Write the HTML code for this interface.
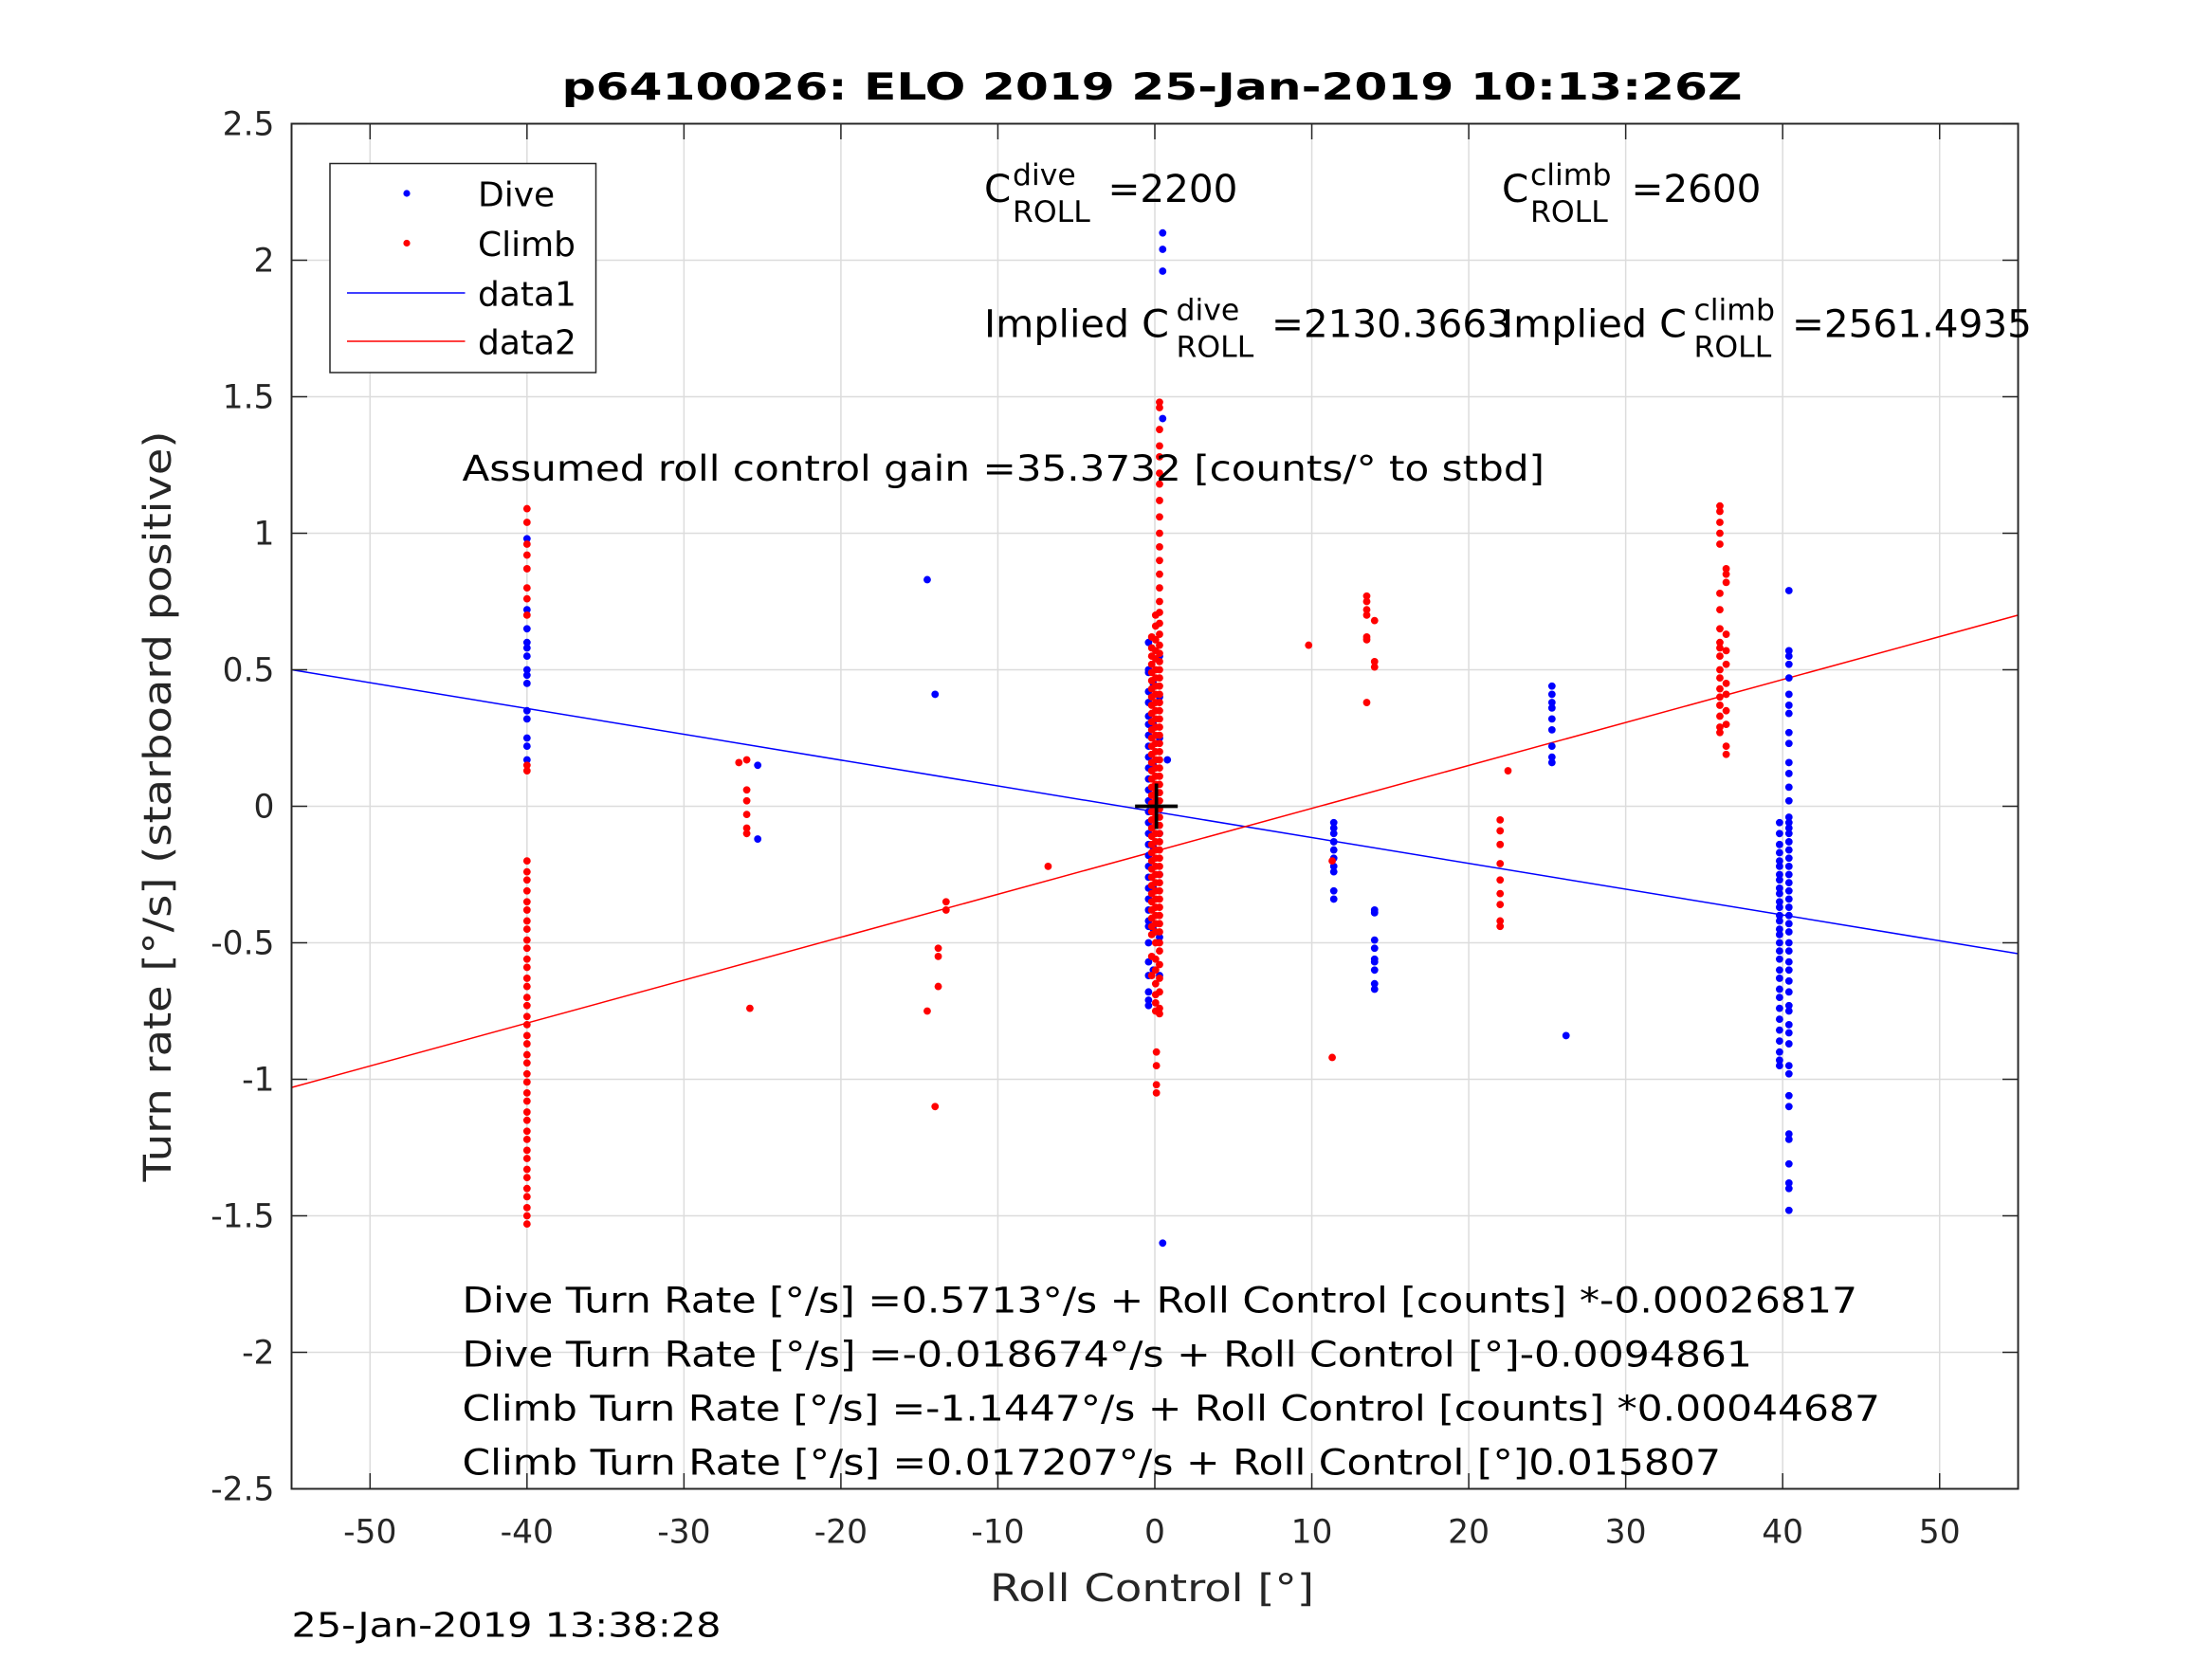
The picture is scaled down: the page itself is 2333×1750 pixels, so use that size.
<!DOCTYPE html>
<html><head><meta charset="utf-8">
<style>html,body{margin:0;padding:0;background:#fff;}svg{display:block;}</style></head>
<body>
<svg id="chart" width="2333" height="1750" viewBox="0 0 1555.33 1166.67" xmlns="http://www.w3.org/2000/svg" font-family="'DejaVu Sans','Liberation Sans',sans-serif">
<rect width="1555.33" height="1166.67" fill="#fff"/>
<g id="grid"></g>
<g id="fits"></g>
<g id="points"></g>
<g id="axes"></g>
<text x="810" y="70" text-anchor="middle" font-weight="bold" font-size="26" textLength="830" lengthAdjust="spacingAndGlyphs">p6410026: ELO 2019 25-Jan-2019 10:13:26Z</text>
<text transform="translate(120,567) rotate(-90)" text-anchor="middle" font-size="27" fill="#262626" textLength="528" lengthAdjust="spacingAndGlyphs">Turn rate [°/s] (starboard positive)</text>
<text x="810" y="1126" text-anchor="middle" font-size="27" fill="#262626" textLength="228" lengthAdjust="spacingAndGlyphs">Roll Control [°]</text>
<text x="205" y="1151" font-size="24" textLength="302" lengthAdjust="spacingAndGlyphs">25-Jan-2019 13:38:28</text>
<g font-size="27">
<text y="142"><tspan x="692">C</tspan><tspan font-size="21" x="712" y="130">dive</tspan><tspan font-size="21" x="712" y="156">ROLL</tspan><tspan x="779" y="142">=2200</tspan></text>
<text y="142"><tspan x="1056">C</tspan><tspan font-size="21" x="1076" y="130">climb</tspan><tspan font-size="21" x="1076" y="156">ROLL</tspan><tspan x="1147" y="142">=2600</tspan></text>
<text y="237"><tspan x="692" textLength="130" lengthAdjust="spacingAndGlyphs">Implied C</tspan><tspan font-size="21" x="827" y="225">dive</tspan><tspan font-size="21" x="827" y="251">ROLL</tspan><tspan x="894" y="237">=2130.3663</tspan></text>
<text y="237"><tspan x="1056" textLength="130" lengthAdjust="spacingAndGlyphs">Implied C</tspan><tspan font-size="21" x="1191" y="225">climb</tspan><tspan font-size="21" x="1191" y="251">ROLL</tspan><tspan x="1260" y="237">=2561.4935</tspan></text>
<text x="325" y="338" font-size="25" textLength="761" lengthAdjust="spacingAndGlyphs">Assumed roll control gain =35.3732 [counts/° to stbd]</text>
<text x="325" y="923" font-size="25" textLength="981" lengthAdjust="spacingAndGlyphs">Dive Turn Rate [°/s] =0.5713°/s + Roll Control [counts] *-0.00026817</text>
<text x="325" y="961" font-size="25" textLength="907" lengthAdjust="spacingAndGlyphs">Dive Turn Rate [°/s] =-0.018674°/s + Roll Control [°]-0.0094861</text>
<text x="325" y="999" font-size="25" textLength="997" lengthAdjust="spacingAndGlyphs">Climb Turn Rate [°/s] =-1.1447°/s + Roll Control [counts] *0.00044687</text>
<text x="325" y="1037" font-size="25" textLength="885" lengthAdjust="spacingAndGlyphs">Climb Turn Rate [°/s] =0.017207°/s + Roll Control [°]0.015807</text>
</g>
<g>
<rect x="232" y="115" width="187" height="147" fill="#fff" stroke="#262626" stroke-width="1"/>
<circle cx="286" cy="136" r="2.4" fill="#0000ff"/>
<text x="336" y="145" font-size="24">Dive</text>
<circle cx="286" cy="171" r="2.4" fill="#ff0000"/>
<text x="336" y="180" font-size="24">Climb</text>
<line x1="244" y1="206" x2="327" y2="206" stroke="#0000ff"/>
<text x="336" y="215" font-size="24">data1</text>
<line x1="244" y1="240" x2="327" y2="240" stroke="#ff0000"/>
<text x="336" y="249" font-size="24">data2</text>
</g>
</svg>
<script>
const xTicks = [-50,-40,-30,-20,-10,0,10,20,30,40,50];
const yTicks = [-2.5,-2,-1.5,-1,-0.5,0,0.5,1,1.5,2,2.5];
const yTickLabels = ["-2.5","-2","-1.5","-1","-0.5","0","0.5","1","1.5","2","2.5"];
const fitX = [-55, 55];
const diveFitY = [0.50, -0.54];
const climbFitY = [-1.03, 0.70];

// Dive (blue) clusters: one roll-control value per cluster, list of turn rates
const diveClusterX = [-40, -25.3, -14.5, -14, -0.4, -0.1, 0.3, 0.5, 0.8, 11.4, 14, 25.3, 26.2, 39.8, 40.4];
const diveClusterY = [
 [0.98,0.72,0.65,0.6,0.58,0.55,0.5,0.48,0.45,0.35,0.32,0.25,0.22,0.17],
 [0.15,-0.12],
 [0.83],
 [0.41],
 [0.6,0.5,0.49,0.42,0.38,0.33,0.3,0.26,0.22,0.18,0.14,0.1,0.06,0.02,-0.02,-0.06,-0.1,-0.14,-0.18,-0.22,-0.26,-0.3,-0.34,-0.38,-0.42,-0.44,-0.5,-0.57,-0.62,-0.68,-0.71,-0.73],
 [0.45,0.3,0.15,0.0,-0.15,-0.3,-0.45,-0.6],
 [0.55,0.4,0.25,-0.1,-0.25,-0.48,-0.62],
 [2.1,2.04,1.96,1.42,-1.6],
 [0.17],
 [-0.06,-0.08,-0.1,-0.13,-0.16,-0.19,-0.22,-0.24,-0.31,-0.34],
 [-0.38,-0.39,-0.49,-0.52,-0.57,-0.56,-0.6,-0.65,-0.67],
 [0.44,0.41,0.38,0.36,0.32,0.28,0.22,0.18,0.16],
 [-0.84],
 [-0.06,-0.1,-0.14,-0.17,-0.2,-0.22,-0.25,-0.27,-0.3,-0.32,-0.35,-0.37,-0.4,-0.42,-0.45,-0.47,-0.5,-0.53,-0.56,-0.6,-0.63,-0.67,-0.7,-0.74,-0.78,-0.82,-0.86,-0.9,-0.93,-0.95],
 [0.79,0.57,0.55,0.52,0.47,0.41,0.37,0.34,0.27,0.23,0.16,0.12,0.07,0.02,-0.04,-0.06,-0.08,-0.1,-0.13,-0.16,-0.19,-0.22,-0.25,-0.28,-0.31,-0.34,-0.37,-0.4,-0.43,-0.46,-0.5,-0.53,-0.57,-0.6,-0.64,-0.68,-0.73,-0.75,-0.8,-0.83,-0.87,-0.95,-0.98,-1.06,-1.1,-1.2,-1.22,-1.31,-1.38,-1.4,-1.48]
];

// Climb (red) clusters
const climbClusterX = [-40, -26.5, -26, -25.8, -14.5, -14, -13.8, -13.3, -6.8, -0.2, 0.05, 0.3, 0.1, 9.8, 11.3, 13.5, 14, 22, 22.5, 36, 36.4];
const climbClusterY = [
 [1.09,1.04,0.96,0.92,0.87,0.8,0.76,0.7,0.15,0.13,-0.2,-0.24,-0.27,-0.31,-0.35,-0.38,-0.42,-0.45,-0.49,-0.52,-0.56,-0.59,-0.63,-0.66,-0.7,-0.73,-0.77,-0.8,-0.84,-0.87,-0.91,-0.94,-0.98,-1.01,-1.05,-1.08,-1.12,-1.15,-1.19,-1.22,-1.26,-1.29,-1.33,-1.36,-1.4,-1.43,-1.47,-1.5,-1.53],
 [0.16],
 [0.17,0.06,0.02,-0.03,-0.08,-0.1],
 [-0.74],
 [-0.75],
 [-1.1],
 [-0.52,-0.55,-0.66],
 [-0.35,-0.38],
 [-0.22],
 [0.62,0.58,0.55,0.52,0.49,0.46,0.43,0.4,0.37,0.34,0.31,0.28,0.25,0.22,0.19,0.16,0.13,0.1,0.07,0.04,0.01,-0.02,-0.05,-0.08,-0.11,-0.14,-0.17,-0.2,-0.23,-0.26,-0.29,-0.32,-0.35,-0.38,-0.41,-0.44,-0.47,-0.55,-0.62],
 [0.7,0.66,0.61,0.57,0.54,0.5,0.47,0.44,0.41,0.38,0.35,0.32,0.29,0.26,0.23,0.2,0.17,0.14,0.11,0.08,0.05,0.02,-0.01,-0.04,-0.07,-0.1,-0.13,-0.16,-0.19,-0.22,-0.25,-0.28,-0.31,-0.34,-0.37,-0.4,-0.43,-0.46,-0.5,-0.56,-0.6,-0.65,-0.69,-0.72,-0.75],
 [1.48,1.46,1.38,1.32,1.28,1.22,1.18,1.12,1.06,1.0,0.95,0.9,0.85,0.8,0.75,0.71,0.67,0.63,0.59,0.56,0.53,0.5,0.47,0.44,0.41,0.38,0.35,0.32,0.29,0.26,0.23,0.2,0.17,0.14,0.11,0.08,0.05,0.02,-0.01,-0.04,-0.07,-0.1,-0.13,-0.16,-0.19,-0.22,-0.25,-0.28,-0.31,-0.34,-0.37,-0.4,-0.43,-0.46,-0.5,-0.53,-0.58,-0.63,-0.68,-0.74,-0.76],
 [-0.9,-0.95,-1.02,-1.05],
 [0.59],
 [-0.2,-0.92],
 [0.77,0.75,0.72,0.7,0.62,0.61,0.38],
 [0.68,0.53,0.51],
 [-0.05,-0.09,-0.14,-0.21,-0.27,-0.32,-0.36,-0.42,-0.44],
 [0.13],
 [1.1,1.08,1.04,1.0,0.96,0.78,0.72,0.65,0.6,0.58,0.55,0.5,0.47,0.43,0.4,0.37,0.33,0.29,0.27],
 [0.87,0.85,0.82,0.63,0.57,0.52,0.45,0.41,0.35,0.3,0.22,0.19]
];

const L=205, R=1419, T=87, B=1047, xMin=-55, xMax=55, yMin=-2.5, yMax=2.5;
const sx = v => L + (v - xMin) / (xMax - xMin) * (R - L);
const sy = v => B - (v - yMin) / (yMax - yMin) * (B - T);
const NS = "http://www.w3.org/2000/svg";
function mk(tag, attrs, parent) {
  const el = document.createElementNS(NS, tag);
  for (const k in attrs) el.setAttribute(k, attrs[k]);
  parent.appendChild(el);
  return el;
}
const grid = document.getElementById('grid');
const axes = document.getElementById('axes');
const fits = document.getElementById('fits');
const pts = document.getElementById('points');

xTicks.forEach(v => {
  const g = mk('line', {x1: sx(v), x2: sx(v), y1: T, y2: B, stroke: '#dcdcdc', 'stroke-width': 1}, grid);
  
  
  const t1 = mk('line', {x1: sx(v), x2: sx(v), y1: B, y2: B - 11, stroke: '#262626'}, axes);
  
  
  const t2 = mk('line', {x1: sx(v), x2: sx(v), y1: T, y2: T + 11, stroke: '#262626'}, axes);
  
  
  const lb = mk('text', {x: sx(v), y: B + 38, 'text-anchor': 'middle', 'font-size': 23, fill: '#262626'}, axes);
  
  
  lb.textContent = String(v);
});
yTicks.forEach((v, i) => {
  const g = mk('line', {x1: L, x2: R, y1: sy(v), y2: sy(v), stroke: '#dcdcdc', 'stroke-width': 1}, grid);
  
  
  const t1 = mk('line', {x1: L, x2: L + 11, y1: sy(v), y2: sy(v), stroke: '#262626'}, axes);
  
  
  const t2 = mk('line', {x1: R, x2: R - 11, y1: sy(v), y2: sy(v), stroke: '#262626'}, axes);
  
  
  const lb = mk('text', {x: L - 12, y: sy(v) + 8, 'text-anchor': 'end', 'font-size': 23, fill: '#262626'}, axes);
  
  
  lb.textContent = yTickLabels[i];
});
const frame = mk('rect', {x: L, y: T, width: R - L, height: B - T, fill: 'none', stroke: '#262626', 'stroke-width': 1.3}, axes);



const f1 = mk('line', {x1: sx(fitX[0]), y1: sy(diveFitY[0]), x2: sx(fitX[1]), y2: sy(diveFitY[1]), stroke: '#0000ff', 'stroke-width': 1}, fits);


const f2 = mk('line', {x1: sx(fitX[0]), y1: sy(climbFitY[0]), x2: sx(fitX[1]), y2: sy(climbFitY[1]), stroke: '#ff0000', 'stroke-width': 1}, fits);



diveClusterX.forEach((x, ci) => {
  diveClusterY[ci].forEach(y => {
    const c = mk('circle', {cx: sx(x), cy: sy(y), r: 2.6, fill: '#0000ff'}, pts);
    
    
  });
});
climbClusterX.forEach((x, ci) => {
  climbClusterY[ci].forEach(y => {
    const c = mk('circle', {cx: sx(x), cy: sy(y), r: 2.6, fill: '#ff0000'}, pts);
    
    
  });
});
const cross = mk('path', {d: `M${sx(0.1)-15},${sy(0)}h30M${sx(0.1)},${sy(0)-16}v32`, stroke: '#000', 'stroke-width': 2.5, fill: 'none'}, pts);


</script>
</body></html>
